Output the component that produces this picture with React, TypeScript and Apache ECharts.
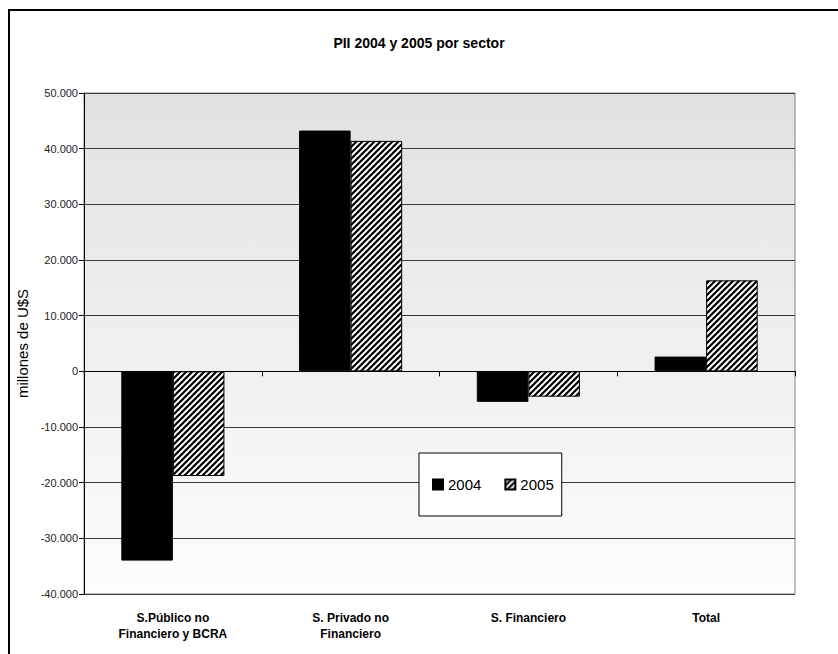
import React, { useEffect, useRef } from "react";
import * as echarts from "echarts";

const categories = ["S.Público no\nFinanciero y BCRA", "S. Privado no\nFinanciero", "S. Financiero", "Total"];
const values2004 = [-34000, 43250, -5480, 2650];
const values2005 = [-18800, 41400, -4550, 16350];
const seriesNames = ["2004", "2005"];
const chartTitle = "PII 2004 y 2005 por sector";
const yAxisName = "millones de U$S";

function fmt(v: number): string {
  const s = Math.abs(v).toString().replace(/\B(?=(\d{3})+(?!\d))/g, ".");
  return (v < 0 ? "-" : "") + s;
}

function makeHatch(): HTMLCanvasElement {
  const c = document.createElement("canvas");
  const n = 6;
  c.width = n;
  c.height = n;
  const ctx = c.getContext("2d")!;
  ctx.fillStyle = "#ffffff";
  ctx.fillRect(0, 0, n, n);
  ctx.strokeStyle = "#000000";
  ctx.lineWidth = 2.2;
  ctx.beginPath();
  ctx.moveTo(-1, n + 1);
  ctx.lineTo(n + 1, -1);
  ctx.moveTo(-2, 2);
  ctx.lineTo(2, -2);
  ctx.moveTo(n - 2, n + 2);
  ctx.lineTo(n + 2, n - 2);
  ctx.stroke();
  return c;
}

export default function App() {
  const ref = useRef<HTMLDivElement>(null);
  useEffect(() => {
    if (!ref.current) return;
    const chart = echarts.init(ref.current, undefined, { renderer: "svg" });
    const hatch = { image: makeHatch(), repeat: "repeat" } as any;
    const font = "'Liberation Sans', Arial, sans-serif";
    chart.setOption({
      animation: false,
      backgroundColor: "#ffffff",
      textStyle: { fontFamily: font },
      title: {
        text: chartTitle,
        left: "center",
        top: 31,
        textStyle: { fontFamily: font, fontSize: 14, fontWeight: "bold", color: "#000" },
      },
      graphic: [
        {
          type: "rect",
          shape: { x: 9, y: 10, width: 900, height: 700 },
          style: { fill: "none", stroke: "#000", lineWidth: 2 },
          silent: true,
          z: 100,
        },
      ],
      legend: {
        left: 419,
        top: 453,
        orient: "horizontal",
        backgroundColor: "#ffffff",
        borderColor: "#000",
        borderWidth: 1,
        padding: [24, 8, 24, 13],
        itemWidth: 10,
        itemHeight: 10,
        itemGap: 23,
        icon: "rect",
        textStyle: { fontFamily: font, fontSize: 15, color: "#000" },
        data: seriesNames,
      },
      grid: {
        left: 84,
        right: 43,
        top: 93,
        bottom: 60,
        show: true,
        borderColor: "#808080",
        borderWidth: 1,
        backgroundColor: {
          type: "linear",
          x: 0,
          y: 0,
          x2: 0,
          y2: 1,
          colorStops: [
            { offset: 0, color: "#e1e1e1" },
            { offset: 1, color: "#fdfdfd" },
          ],
        },
      },
      xAxis: [
        {
          type: "category",
          data: categories,
          position: "bottom",
          axisLine: { show: false, onZero: false },
          axisTick: { show: false },
          axisLabel: {
            fontFamily: font,
            fontSize: 12,
            fontWeight: "bold",
            color: "#000",
            lineHeight: 16,
            margin: 16,
            interval: 0,
          },
        },
        {
          type: "category",
          data: categories,
          position: "bottom",
          axisLine: { show: true, onZero: true, lineStyle: { color: "#000", width: 1 } },
          axisTick: { show: true, length: 5, lineStyle: { color: "#000" } },
          axisLabel: { show: false },
        },
      ],
      yAxis: {
        type: "value",
        min: -40000,
        max: 50000,
        interval: 10000,
        name: yAxisName,
        nameLocation: "middle",
        nameGap: 49,
        nameTextStyle: { fontFamily: font, fontSize: 15, color: "#000" },
        axisLine: { show: true, lineStyle: { color: "#000" } },
        axisTick: { show: true, length: 5, lineStyle: { color: "#000" } },
        axisLabel: {
          fontFamily: font,
          fontSize: 11,
          color: "#222",
          margin: 6,
          formatter: (v: number) => fmt(v),
        },
        splitLine: { show: true, lineStyle: { color: "#3a3a3a", width: 1 } },
      },
      series: [
        {
          name: seriesNames[0],
          type: "bar",
          xAxisIndex: 0,
          data: values2004,
          barGap: "0%",
          barCategoryGap: "42%",
          itemStyle: { color: "#000", borderColor: "#000", borderWidth: 1 },
        },
        {
          name: seriesNames[1],
          type: "bar",
          xAxisIndex: 0,
          data: values2005,
          barGap: "0%",
          barCategoryGap: "42%",
          itemStyle: { color: hatch, borderColor: "#000", borderWidth: 1 },
        },
      ],
    });
    return () => chart.dispose();
  }, []);
  return (
    <div
      ref={ref}
      style={{ position: "absolute", left: 0, top: 0, width: 838, height: 654 }}
    />
  );
}
